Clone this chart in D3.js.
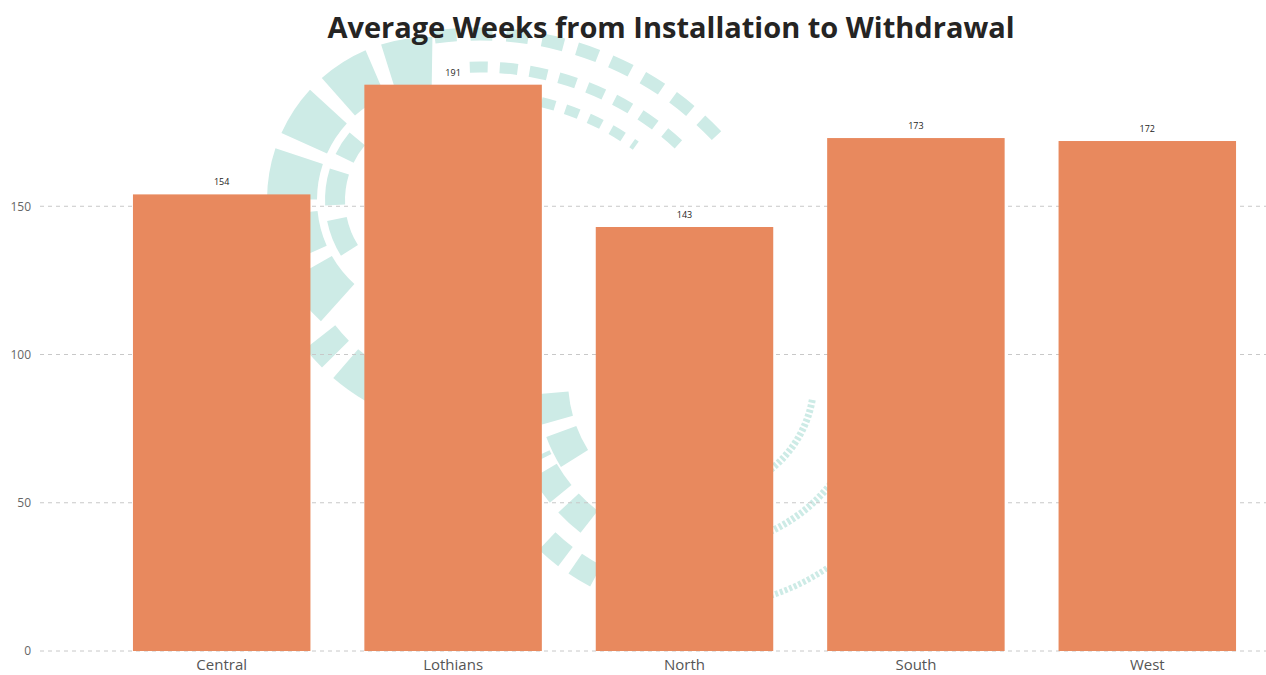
<!DOCTYPE html>
<html>
<head>
<meta charset="utf-8">
<script src="https://cdn.jsdelivr.net/npm/d3@7"></script>
<style>
  html, body { margin: 0; padding: 0; background: #ffffff; }
  svg { display: block; }
</style>
</head>
<body>
<svg id="chart" width="1266" height="675"></svg>
<script>
const categories = ["Central", "Lothians", "North", "South", "West"];
const values = [154, 191, 143, 173, 172];
const yTicks = [0, 50, 100, 150];
const title = "Average Weeks from Installation to Withdrawal";

const W = 1266, H = 675;
const svg = d3.select("#chart");

// decorative watermark (background swirl)
const wm = svg.append("g").attr("fill", "none").attr("stroke", "#cdebe6");
function ringArc(cx, cy, r, a0, a1, width, dash) {
  const p = d3.path();
  const toRad = a => (a - 90) * Math.PI / 180;
  p.arc(cx, cy, r, toRad(a0), toRad(a1), false);
  wm.append("path").attr("d", p.toString())
    .attr("stroke-width", width).attr("stroke-dasharray", dash);
}
// big left ring
ringArc(430, 200, 138, -138, 5, 50, "44 14");
ringArc(470, 220, 190, -150, -128, 38, "36 14");
ringArc(430, 200, 95, -122, -50, 20, "34 14");
// top stripes
ringArc(480, 360, 326, -8, 48, 13, "22 14");
ringArc(480, 360, 293, -2, 44, 11, "18 12");
ringArc(480, 360, 265, 8, 36, 10, "14 11");
// lower swirl
ringArc(700, 380, 148, -122, -95, 32, "30 12");
ringArc(700, 380, 180, -142, -115, 28, "28 12");
ringArc(700, 380, 222, -152, -136, 24, "24 12");
ringArc(700, 380, 114, 100, 145, 7, "3 2");
ringArc(700, 380, 167, 125, 156, 7, "3 2");
ringArc(700, 380, 227, 146, 163, 6, "3 2");

const x = d3.scaleBand().domain(categories).range([106, 1263])
  .paddingInner(0.233).paddingOuter(0.1165);
const y = d3.scaleLinear().domain([0, 200]).range([651, 58]);

// gridlines
svg.append("g").selectAll("line").data(yTicks).join("line")
  .attr("x1", 40).attr("x2", W)
  .attr("y1", d => y(d)).attr("y2", d => y(d))
  .attr("stroke", "#c8c8c8").attr("stroke-width", 1)
  .attr("stroke-dasharray", "4 4");

// y axis labels
const yAxis = d3.axisLeft(y).tickValues(yTicks).tickSize(0).tickPadding(0);
svg.append("g").attr("transform", "translate(31,0)").call(yAxis)
  .call(g => g.select(".domain").remove())
  .selectAll("text")
  .attr("font-family", "'Open Sans', sans-serif")
  .attr("font-size", 12).attr("fill", "#666666");

// bars
svg.append("g").selectAll("rect").data(values).join("rect")
  .attr("x", (d, i) => x(categories[i]))
  .attr("width", x.bandwidth())
  .attr("y", d => y(d))
  .attr("height", d => y(0) - y(d))
  .attr("fill", "#e8895e");

// data labels
svg.append("g").selectAll("text").data(values).join("text")
  .attr("x", (d, i) => x(categories[i]) + x.bandwidth() / 2)
  .attr("y", d => y(d) - 9)
  .attr("text-anchor", "middle")
  .attr("font-family", "'Open Sans', sans-serif")
  .attr("font-size", 9).attr("fill", "#252423")
  .text(d => d);

// x axis labels
const xAxis = d3.axisBottom(x).tickSize(0).tickPadding(0);
svg.append("g").attr("transform", "translate(0,659)").call(xAxis)
  .call(g => g.select(".domain").remove())
  .selectAll("text")
  .attr("font-family", "'Open Sans', sans-serif")
  .attr("font-size", 15).attr("fill", "#555555");

// title
svg.append("text")
  .attr("x", 671).attr("y", 38)
  .attr("text-anchor", "middle")
  .attr("font-family", "'Open Sans', sans-serif")
  .attr("font-weight", "bold")
  .attr("font-size", 29).attr("fill", "#252423")
  .text(title);
</script>
</body>
</html>
